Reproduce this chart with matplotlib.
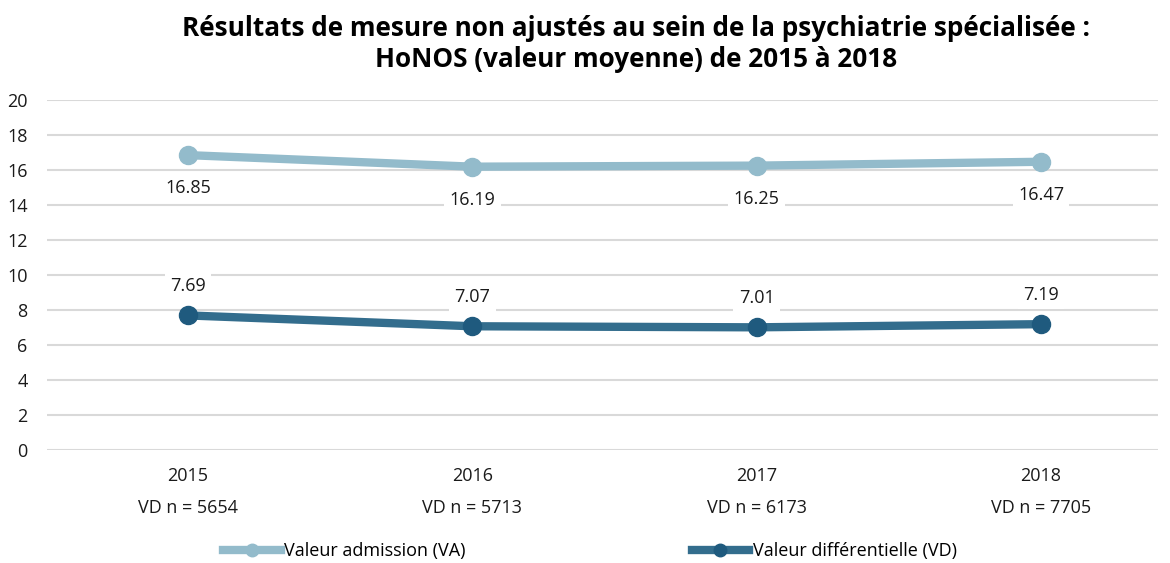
import matplotlib
matplotlib.use("Agg")
import matplotlib.pyplot as plt
from matplotlib.transforms import blended_transform_factory
from matplotlib.lines import Line2D

years = ["2015", "2016", "2017", "2018"]
vd_n = ["VD n = 5654", "VD n = 5713", "VD n = 6173", "VD n = 7705"]
va_values = [16.85, 16.19, 16.25, 16.47]
vd_values = [7.69, 7.07, 7.01, 7.19]
series_names = ["Valeur admission (VA)", "Valeur différentielle (VD)"]
title = "Résultats de mesure non ajustés au sein de la psychiatrie spécialisée :\nHoNOS (valeur moyenne) de 2015 à 2018"

FONT = ["Open Sans", "DejaVu Sans"]
plt.rcParams['font.family'] = FONT

light_line = "#93BBCB"
light_mark = "#93BBCB"
dark_line = "#336D8D"
dark_mark = "#1F5A7E"
FS = 13

fig = plt.figure(figsize=(11.7, 5.63), dpi=100)
ax = fig.add_axes([47/1170, 1-450/563, (1158-47)/1170, 350/563])

x = list(range(len(years)))
ax.plot(x, va_values, color=light_line, lw=6, solid_capstyle='round', zorder=3)
ax.plot(x, va_values, ls='none', marker='o', ms=13, color=light_mark, zorder=4)
ax.plot(x, vd_values, color=dark_line, lw=6, solid_capstyle='round', zorder=3)
ax.plot(x, vd_values, ls='none', marker='o', ms=13, color=dark_mark, zorder=4)

bbox = dict(boxstyle='square,pad=0.3', fc='white', ec='none')
for xi, v in zip(x, va_values):
    ax.annotate(f"{v:.2f}", (xi, v), xytext=(0, -24), textcoords='offset points',
                ha='center', va='center', fontsize=FS, color='#1a1a1a', bbox=bbox, zorder=5)
for xi, v in zip(x, vd_values):
    ax.annotate(f"{v:.2f}", (xi, v), xytext=(0, 21), textcoords='offset points',
                ha='center', va='center', fontsize=FS, color='#1a1a1a', bbox=bbox, zorder=5)

ax.set_xlim(-141/284.3, 3 + 117/284.3)
ax.set_ylim(0, 20)
ax.set_yticks(range(0, 21, 2))
ax.set_xticks(x)
ax.set_xticklabels(years)
ax.tick_params(axis='both', length=0, labelsize=FS, colors='#1a1a1a')
ax.tick_params(axis='x', pad=12)
ax.tick_params(axis='y', pad=14)
ax.grid(axis='y', color='#D9D9D9', lw=1.5, zorder=0)
ax.set_axisbelow(True)
for s in ax.spines.values():
    s.set_visible(False)

tr = blended_transform_factory(ax.transData, ax.transAxes)
for xi, t in zip(x, vd_n):
    ax.text(xi, -58/350, t, transform=tr, ha='center', va='center', fontsize=FS, color='#1a1a1a')

fig.text(636/1170, 1-44/563, title, ha='center', va='center', fontsize=18.8,
         fontweight='bold', color='black', linespacing=1.2)

handles = [
    Line2D([], [], color=light_line, lw=6, marker='o', ms=9, markerfacecolor=light_mark, markeredgecolor=light_mark),
    Line2D([], [], color=dark_line, lw=6, marker='o', ms=9, markerfacecolor=dark_mark, markeredgecolor=dark_mark),
]
fig.legend(handles, series_names, loc='center', bbox_to_anchor=(590/1170, 1-551/563), ncol=2,
           frameon=False, fontsize=FS, handlelength=3.2, handletextpad=0.2, columnspacing=12.5)

fig.savefig("out.png", dpi=100)
